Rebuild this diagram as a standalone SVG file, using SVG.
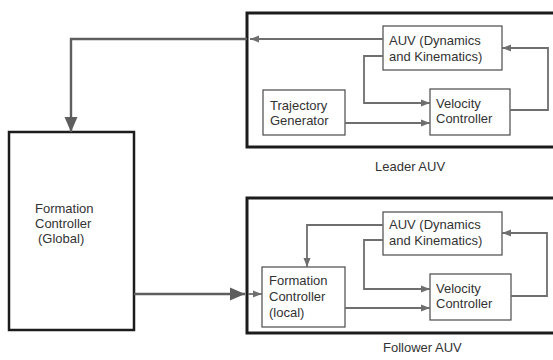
<svg xmlns="http://www.w3.org/2000/svg" width="553" height="360" viewBox="0 0 553 360">
<style>
text{font-family:"Liberation Sans",Arial,sans-serif;font-size:13px;fill:#333}
.outer{fill:none;stroke:#1c1c1c;stroke-width:3}
.box{fill:#fff;stroke:#4a4a4a;stroke-width:1.2}
.big{fill:#fff;stroke:#1c1c1c;stroke-width:2.5}
.c{fill:none;stroke:#6e6e6e;stroke-width:1.8}
.cb{fill:none;stroke:#5e5e5e;stroke-width:2.4}
</style>
<defs>
<marker id="s" markerUnits="userSpaceOnUse" markerWidth="10" markerHeight="8" refX="9" refY="4" orient="auto"><path d="M0,0.5 L9,4 L0,7.5 z" fill="#6e6e6e"/></marker>
<marker id="b" markerUnits="userSpaceOnUse" markerWidth="16" markerHeight="14" refX="15" refY="7" orient="auto"><path d="M0,0.5 L15,7 L0,13.5 z" fill="#5e5e5e"/></marker>
</defs>
<rect width="553" height="360" fill="#fff"/>
<g id="leader">
<rect class="outer" x="247" y="13" width="320" height="134"/>
<text x="375" y="171">Leader AUV</text>
</g>
<g id="follower">
<rect class="outer" x="247" y="198" width="320" height="135"/>
<text x="383" y="352">Follower AUV</text>
</g>
<g id="formation-global">
<rect class="big" x="9" y="132" width="125" height="198"/>
<text x="35" y="213">Formation</text>
<text x="35" y="228">Controller</text>
<text x="38" y="243">(Global)</text>
</g>
<g id="leader-auv">
<rect class="box" x="383" y="26" width="119" height="44"/>
<text x="389" y="45">AUV (Dynamics</text>
<text x="389" y="61">and Kinematics)</text>
</g>
<g id="trajectory-generator">
<rect class="box" x="263" y="90" width="82" height="45"/>
<text x="270" y="110">Trajectory</text>
<text x="270" y="125">Generator</text>
</g>
<g id="leader-velocity">
<rect class="box" x="430" y="89" width="80" height="46"/>
<text x="436" y="108">Velocity</text>
<text x="436" y="123">Controller</text>
</g>
<g id="follower-auv">
<rect class="box" x="383" y="212" width="119" height="43"/>
<text x="389" y="229">AUV (Dynamics</text>
<text x="389" y="245">and Kinematics)</text>
</g>
<g id="formation-local">
<rect class="box" x="262" y="267" width="83" height="60"/>
<text x="269" y="285">Formation</text>
<text x="269" y="301">Controller</text>
<text x="269" y="317">(local)</text>
</g>
<g id="follower-velocity">
<rect class="box" x="430" y="274" width="81" height="46"/>
<text x="436" y="293">Velocity</text>
<text x="436" y="308">Controller</text>
</g>
<g id="connectors">
<path class="c" d="M383,39 H250" marker-end="url(#s)"/>
<path class="cb" d="M247,39 H71 V132" marker-end="url(#b)"/>
<path class="c" d="M383,56 H364 V103 H430" marker-end="url(#s)"/>
<path class="c" d="M345,123 H430" marker-end="url(#s)"/>
<path class="c" d="M510,110 H548 V48 H502" marker-end="url(#s)"/>
<path class="cb" d="M134,294 H245" marker-end="url(#b)"/>
<path class="c" d="M248,294 H262" marker-end="url(#s)"/>
<path class="c" d="M383,225 H307 V267" marker-end="url(#s)"/>
<path class="c" d="M383,240 H364 V289 H430" marker-end="url(#s)"/>
<path class="c" d="M345,308 H430" marker-end="url(#s)"/>
<path class="c" d="M511,296 H547 V233 H502" marker-end="url(#s)"/>
</g>
</svg>
